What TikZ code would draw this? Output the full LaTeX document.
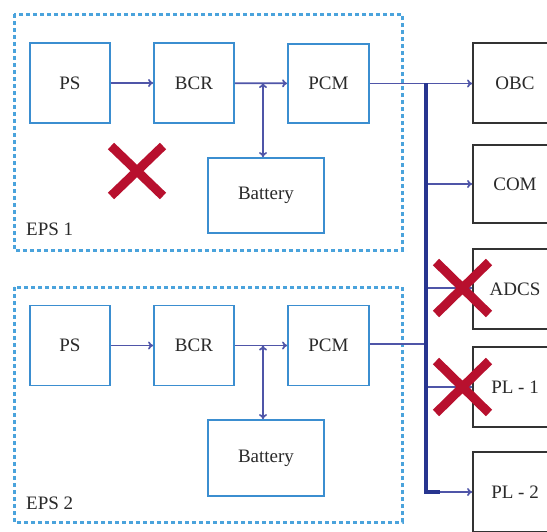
\documentclass[tikz,border=0pt]{standalone}
\usepackage{fontspec}
\setmainfont{Liberation Serif}
\usetikzlibrary{arrows.meta}
\definecolor{boxblue}{HTML}{3B8ED0}
\definecolor{dashblue}{HTML}{4AA3DC}
\definecolor{linkblue}{HTML}{4F55A8}
\definecolor{busblue}{HTML}{27358F}
\definecolor{xred}{HTML}{B8102E}
\definecolor{txt}{HTML}{2A2A2A}
\tikzset{
  epsbox/.style={draw=boxblue,line width=1.8pt,minimum width=80pt,minimum height=80pt,inner sep=0pt,text=txt,font=\fontsize{19}{21}\selectfont},
  batbox/.style={epsbox,minimum width=116pt,minimum height=75pt},
  loadbox/.style={draw=black!80,line width=1.8pt,minimum width=84pt,minimum height=80pt,inner sep=0pt,text=txt,font=\fontsize{19}{21}\selectfont},
  group/.style={draw=dashblue,line width=3pt,dash pattern=on 4pt off 3pt},
  link/.style={draw=linkblue,line width=1.7pt,-{To[length=5pt,width=8pt]}},
  plainlink/.style={draw=linkblue,line width=1.7pt},
  dlink/.style={draw=linkblue,line width=1.7pt,{To[length=5pt,width=8pt]}-{To[length=5pt,width=8pt]}},
  bus/.style={draw=busblue,line width=3.5pt},
  cross/.style={draw=xred,line width=9pt},
  grplabel/.style={text=txt,font=\fontsize{19}{21}\selectfont,anchor=west,inner sep=0pt}
}
\begin{document}
\begin{tikzpicture}[x=1pt,y=-1pt]
\useasboundingbox (0,0) rectangle (547,531);
\clip (0,0) rectangle (547,531);
\fill[white] (0,0) rectangle (547,531);
% group frames
\draw[group] (14,14) rectangle (402,250);
\draw[group] (14,287) rectangle (402,522);
\node[grplabel] (l1) at (26,229) {EPS 1};
\node[grplabel] (l2) at (26,503) {EPS 2};
% EPS 1
\node[epsbox] (ps1) at (70,83) {PS};
\node[epsbox] (bcr1) at (194,83) {BCR};
\node[epsbox,minimum width=81pt,minimum height=79pt] (pcm1) at (328.5,83.5) {PCM};
\node[batbox] (bat1) at (266,195.5) {Battery};
% EPS 2
\node[epsbox] (ps2) at (70,345.5) {PS};
\node[epsbox] (bcr2) at (194,345.5) {BCR};
\node[epsbox,minimum width=81pt] (pcm2) at (328.5,345.5) {PCM};
\node[batbox,minimum height=76pt] (bat2) at (266,458) {Battery};
% loads
\node[loadbox] (obc) at (515,83) {OBC};
\node[loadbox,minimum height=78pt] (com) at (515,184) {COM};
\node[loadbox] (adcs) at (515,289) {ADCS};
\node[loadbox] (pl1) at (515,387) {PL - 1};
\node[loadbox] (pl2) at (515,492) {PL - 2};
% junctions
\coordinate (j1) at (263,83);
\coordinate (j2) at (263,345.5);
\coordinate (btop) at (426,83);
\coordinate (bbot) at (426,492);
\coordinate (bcom) at (426,184);
\coordinate (badcs) at (426,288);
\coordinate (bpl1) at (426,387);
\coordinate (bpcm2) at (426,344);
% EPS 1 links
\draw[link] (ps1) -- (bcr1);
\draw[link] (bcr1) -- (pcm1);
\draw[dlink] (j1) -- (j1 |- bat1.north);
% EPS 2 links
\draw[link] (ps2) -- (bcr2);
\draw[link] (bcr2) -- (pcm2);
\draw[dlink] (j2) -- (j2 |- bat2.north);
% bus
\draw[link] (pcm1.east) -- (obc.west |- pcm1.east);
\draw[plainlink] (pcm2.east |- bpcm2) -- (bpcm2);
\draw[link] (bcom) -- (com.west |- bcom);
\draw[link] (badcs) -- (adcs.west |- badcs);
\draw[link] (bpl1) -- (pl1.west |- bpl1);
\draw[link] (bbot) -- (pl2.west |- bbot);
\draw[bus] (btop) -- (bbot) -- ++(14,0);
% crosses
\draw[cross] (111,146) -- (163,196) (163,146) -- (111,196);
\draw[cross] (436,262) -- (489,314) (489,262) -- (436,314);
\draw[cross] (436,361) -- (489,413) (489,361) -- (436,413);
\end{tikzpicture}
\end{document}
